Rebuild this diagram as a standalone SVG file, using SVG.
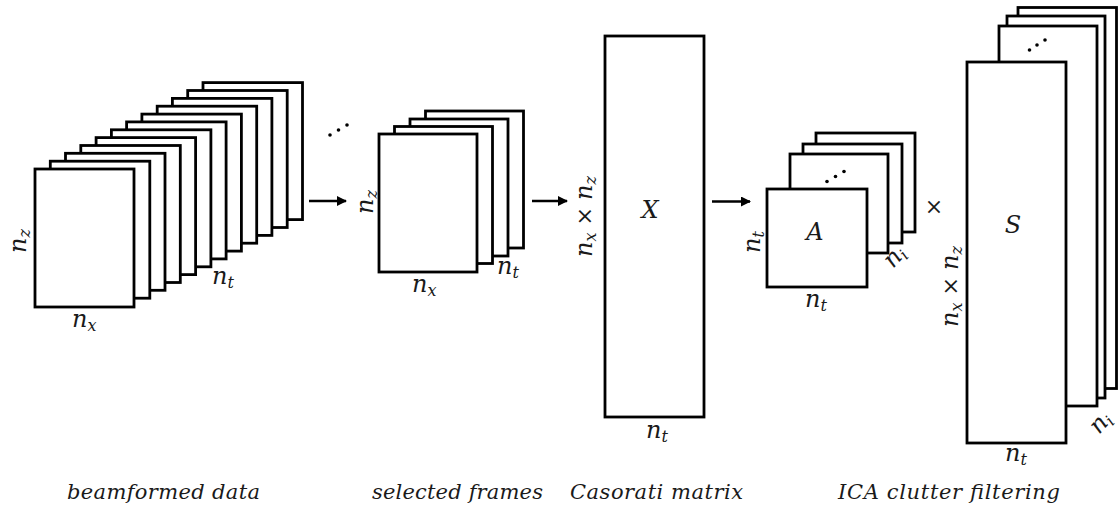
<svg xmlns="http://www.w3.org/2000/svg" width="1118" height="514" viewBox="0 0 1118 514">
  <defs>
    <style>
      .frame { fill: #ffffff; stroke: #000000; stroke-width: 2.8; }
      .wire { fill: none; stroke: #000000; stroke-width: 2.5; }
      .m { font-family: "DejaVu Serif", "Liberation Serif", serif; font-style: italic; font-size: 24px; fill: #1a1a1a; }
      .sub { font-size: 16px; }
      .up { font-style: normal; font-size: 22px; }
      .cap { font-family: "DejaVu Serif", "Liberation Serif", serif; font-style: italic; font-size: 21px; fill: #1a1a1a; }
      .dot { fill: #000000; }
    </style>
    <marker id="head" viewBox="0 0 10 10" refX="9" refY="5" markerWidth="4" markerHeight="4" markerUnits="strokeWidth" orient="auto">
      <path d="M0,0 L10,5 L0,10 z" fill="#000000"/>
    </marker>
  </defs>
  <rect width="1118" height="514" fill="#ffffff"/>

  <!-- stack of beamformed frames, drawn back to front -->
  <g id="beamformed-data">
    <rect class="frame" x="203" y="82.6" width="99.5" height="137"/>
    <rect class="frame" x="187.7" y="90.5" width="99.5" height="137"/>
    <rect class="frame" x="172.4" y="98.4" width="99.5" height="137"/>
    <rect class="frame" x="157.2" y="106.2" width="99.5" height="137"/>
    <rect class="frame" x="141.9" y="114.1" width="99.5" height="137"/>
    <rect class="frame" x="126.6" y="121.9" width="99.5" height="137"/>
    <rect class="frame" x="111.4" y="129.8" width="99.5" height="137"/>
    <rect class="frame" x="96.1" y="137.6" width="99.5" height="137"/>
    <rect class="frame" x="80.8" y="145.5" width="99.5" height="137"/>
    <rect class="frame" x="65.5" y="153.3" width="99.5" height="137"/>
    <rect class="frame" x="50.3" y="161.2" width="99.5" height="137"/>
    <rect class="frame" x="35" y="169" width="99" height="138"/>
    <text class="m" transform="translate(26,253) rotate(-90)">n<tspan class="sub" dy="4">z</tspan></text>
    <text class="m" x="72" y="327">n<tspan class="sub" dy="4">x</tspan></text>
    <text class="m" x="212" y="284">n<tspan class="sub" dy="4">t</tspan></text>
    <circle class="dot" cx="330" cy="135" r="1.8"/>
    <circle class="dot" cx="338.5" cy="130" r="1.8"/>
    <circle class="dot" cx="347" cy="125" r="1.8"/>
  </g>

  <!-- subset of frames kept for filtering -->
  <g id="selected-frames">
    <rect class="frame" x="425.5" y="111" width="98" height="137"/>
    <rect class="frame" x="410" y="119" width="98" height="137"/>
    <rect class="frame" x="394.5" y="126.5" width="98" height="137"/>
    <rect class="frame" x="379" y="134" width="98" height="138"/>
    <text class="m" transform="translate(373,214) rotate(-90)">n<tspan class="sub" dy="4">z</tspan></text>
    <text class="m" x="412" y="292">n<tspan class="sub" dy="4">x</tspan></text>
    <text class="m" x="497" y="274">n<tspan class="sub" dy="4">t</tspan></text>
  </g>

  <!-- space-time matrix -->
  <g id="casorati-matrix">
    <rect class="frame" x="605" y="36" width="99" height="381"/>
    <text class="m" x="650" y="218" text-anchor="middle">X</text>
    <text class="m" transform="translate(592,257) rotate(-90)">n<tspan class="sub" dy="4">x</tspan><tspan class="up" dy="-4"> × </tspan>n<tspan class="sub" dy="4">z</tspan></text>
    <text class="m" x="646" y="438">n<tspan class="sub" dy="4">t</tspan></text>
  </g>

  <!-- mixing matrices A -->
  <g id="mixing-A">
    <rect class="frame" x="816" y="133" width="99" height="99"/>
    <rect class="frame" x="803" y="144" width="99" height="99"/>
    <rect class="frame" x="790" y="154" width="98" height="99"/>
    <rect class="frame" x="767" y="189" width="100" height="98"/>
    <circle class="dot" cx="827" cy="181.5" r="1.8"/>
    <circle class="dot" cx="835.5" cy="176.5" r="1.8"/>
    <circle class="dot" cx="844" cy="171.5" r="1.8"/>
    <text class="m" x="815" y="240" text-anchor="middle">A</text>
    <text class="m" transform="translate(760,253) rotate(-90)">n<tspan class="sub" dy="4">t</tspan></text>
    <text class="m" x="805" y="307">n<tspan class="sub" dy="4">t</tspan></text>
    <text class="m" transform="translate(893,269) rotate(-48)">n<tspan class="sub" dy="4">i</tspan></text>
    <text class="m up" x="934" y="214" text-anchor="middle">×</text>
  </g>

  <!-- independent sources S -->
  <g id="sources-S">
    <rect class="frame" x="1018" y="7.5" width="98.5" height="381"/>
    <rect class="frame" x="1007" y="16" width="98" height="382"/>
    <rect class="frame" x="999" y="26" width="98" height="380"/>
    <rect class="frame" x="967" y="62" width="99" height="381"/>
    <circle class="dot" cx="1029.5" cy="50" r="1.8"/>
    <circle class="dot" cx="1037" cy="45" r="1.8"/>
    <circle class="dot" cx="1045" cy="40" r="1.8"/>
    <text class="m" x="1013" y="233" text-anchor="middle">S</text>
    <text class="m" transform="translate(958,327) rotate(-90)">n<tspan class="sub" dy="4">x</tspan><tspan class="up" dy="-4"> × </tspan>n<tspan class="sub" dy="4">z</tspan></text>
    <text class="m" x="1005" y="461">n<tspan class="sub" dy="4">t</tspan></text>
    <text class="m" transform="translate(1099,435) rotate(-48)">n<tspan class="sub" dy="4">i</tspan></text>
  </g>

  <!-- processing arrows -->
  <g id="connectors">
    <line class="wire" x1="309" y1="201" x2="346" y2="201" marker-end="url(#head)"/>
    <line class="wire" x1="532" y1="201" x2="567" y2="201" marker-end="url(#head)"/>
    <line class="wire" x1="712" y1="201.5" x2="750" y2="201.5" marker-end="url(#head)"/>
  </g>

  <!-- stage captions -->
  <g id="captions">
    <text class="cap" x="67" y="499" textLength="193" lengthAdjust="spacing">beamformed data</text>
    <text class="cap" x="372" y="499" textLength="171" lengthAdjust="spacing">selected frames</text>
    <text class="cap" x="570" y="499" textLength="173" lengthAdjust="spacing">Casorati matrix</text>
    <text class="cap" x="838" y="499" textLength="222" lengthAdjust="spacing">ICA clutter filtering</text>
  </g>
</svg>
